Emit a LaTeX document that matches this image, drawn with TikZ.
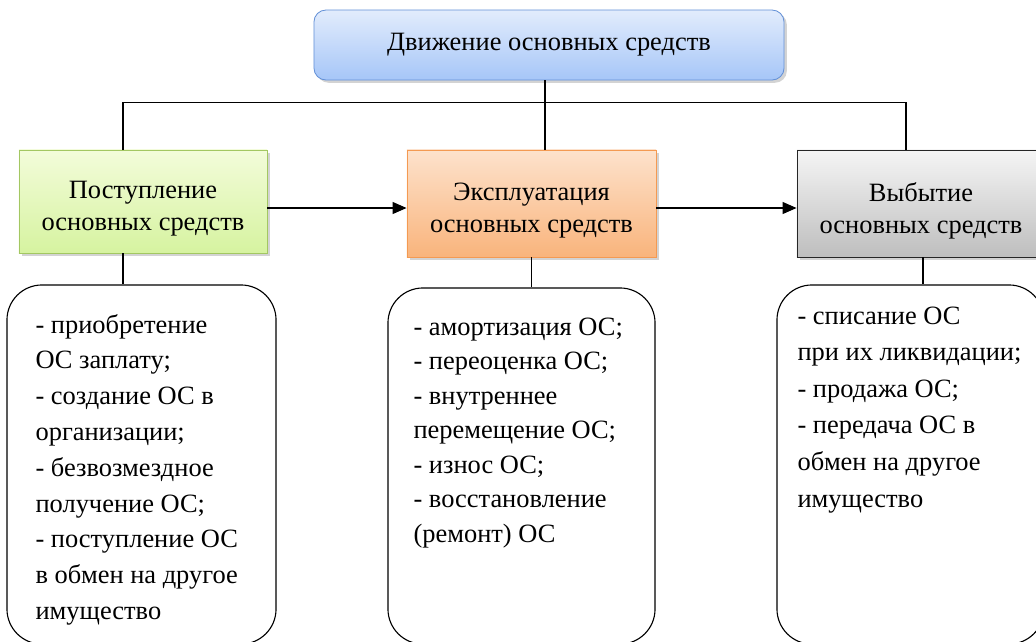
\documentclass[tikz,border=0pt]{standalone}
\usepackage{fontspec}
\setmainfont{Liberation Serif}
\usetikzlibrary{calc, shadows, arrows.meta}

\tikzset{
	box/.style={draw, minimum width=6.2cm, minimum height=2.675cm, align=center, line width=0.6pt,
		font=\fontsize{18.8}{21.3}\selectfont, drop shadow={opacity=0.35, shadow xshift=0.07cm, shadow yshift=-0.07cm}},
	boxt/.style={align=center, yshift=-0.18cm, font=\fontsize{18.8}{22.6}\selectfont},
	spisok/.style={draw, line width=0.8pt, rounded corners=0.875cm, minimum width=6.7cm, minimum height=8.95cm},
	punkt/.style={anchor=base west, inner sep=0pt, font=\fontsize{18.8}{22}\selectfont},
	arr/.style={-{Triangle[length=0.35cm, width=0.3cm]}},
}

\begin{document}
\begin{tikzpicture}[x=0.025cm, y=-0.025cm, line width=0.8pt]

	\useasboundingbox (0,0) rectangle (1036,641);

	\node[box, rounded corners=0.3cm, minimum width=11.75cm, minimum height=1.75cm, draw={rgb,255:red,100;green,145;blue,215},
		top color={rgb,255:red,226;green,236;blue,252}, bottom color={rgb,255:red,166;green,198;blue,248}] (dvizh) at (549,45) {Движение основных средств};

	\node[box, minimum height=2.575cm, draw={rgb,255:red,163;green,199;blue,98},
		top color={rgb,255:red,243;green,252;blue,218}, bottom color={rgb,255:red,214;green,243;blue,160},
		label={[boxt]center:Поступление\\основных средств}] (postup) at (143,201.5) {};
	\node[box, minimum width=6.225cm, draw={rgb,255:red,244;green,154;blue,82},
		top color={rgb,255:red,253;green,226;blue,204}, bottom color={rgb,255:red,249;green,180;blue,124},
		label={[boxt]center:Эксплуатация\\основных средств}] (ekspl) at (531.5,203.5) {};
	\node[box, draw=black!85,
		top color={rgb,255:red,245;green,245;blue,245}, bottom color={rgb,255:red,190;green,190;blue,190},
		label={[boxt]center:Выбытие\\основных средств}] (vybyt) at (921,203.5) {};

	\node[spisok, minimum width=6.725cm, minimum height=8.975cm] (sp1) at (141.5,464.5) {};
	\node[spisok, minimum width=6.675cm, minimum height=8.9cm] (sp2) at (521.5,466) {};
	\node[spisok, minimum width=6.675cm, minimum height=8.975cm] (sp3) at (910.5,464.5) {};

	% punkty spiskov
	\foreach \s [count=\i from 0] in {- приобретение, ОС заплату;, - создание ОС в, организации;, - безвозмездное,
		получение ОС;, - поступление ОС, в обмен на другое, имущество}
		\node[punkt] (a\i) at (35,{333+35.8*\i}) {\s};

	\foreach \s [count=\i from 0] in {- амортизация ОС;, - переоценка ОС;, - внутреннее, перемещение ОС;,
		- износ ОС;, - восстановление, (ремонт) ОС}
		\node[punkt] (b\i) at (413,{335+34.5*\i}) {\s};

	\foreach \s [count=\i from 0] in {- списание ОС, при их ликвидации;, - продажа ОС;, - передача ОС в,
		обмен на другое, имущество}
		\node[punkt] (c\i) at (797,{324+36.6*\i}) {\s};

	% verhnie linii
	\coordinate (jL) at (123,102.5);
	\coordinate (jM) at (545,102.5);
	\coordinate (jR) at (906,102.5);
	\draw (postup.north -| jL) -- (jL) -- (jR) -- (vybyt.north -| jR);
	\draw (dvizh.south -| jM) -- (ekspl.north -| jM);

	\draw[arr] ($(postup.east)+(0,6.5)$) -- ($(ekspl.west)+(0,4.5)$);
	\draw[arr] ($(ekspl.east)+(0,4.5)$) -- ($(vybyt.west)+(0,4.5)$);

	% k spiskam
	\draw (postup.south -| jL) -- (sp1.north -| jL);
	\draw (ekspl.south) -- (ekspl.south |- sp2.north);
	\draw ($(vybyt.south)+(2,0)$) -- ($(vybyt.south |- sp3.north)+(2,0)$);

\end{tikzpicture}
\end{document}
